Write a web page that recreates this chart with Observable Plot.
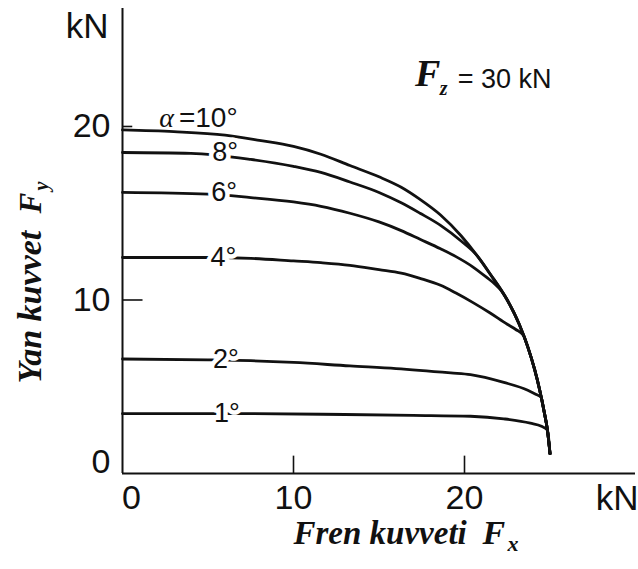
<!DOCTYPE html>
<html>
<head>
<meta charset="utf-8">
<script src="https://cdn.jsdelivr.net/npm/d3@7"></script>
<script src="https://cdn.jsdelivr.net/npm/@observablehq/plot@0.6"></script>
<style>
  html, body { margin: 0; padding: 0; background: #fff; }
  #chart svg { display: block; }
</style>
</head>
<body>
<div id="chart"></div>
<script>
// ---- Data (Fx, Fy in kN) ----
const curve10 = [[0,19.8],[3,19.7],[6,19.5],[8,19.2],[10,18.85],[11.6,18.4],[13.3,17.75],[15,17.1],[16.3,16.5],[17.4,15.8],[18.6,14.9],[19.8,13.7],[20.7,12.6],[21.5,11.5],[22.5,10.0],[23.2,8.6],[23.7,7.3],[24.1,6.0],[24.4,4.8],[24.65,3.6],[24.85,2.5],[25.0,1.15]];
const curve8  = [[0,18.5],[4,18.45],[7.5,18.1],[10,17.7],[11.6,17.35],[13.3,16.8],[15,16.2],[16.3,15.6],[17.4,15.0],[18.6,14.3],[19.8,13.4],[20.7,12.6],[21.5,11.5],[22.5,10.0],[23.2,8.6],[23.7,7.3],[24.1,6.0],[24.4,4.8],[24.65,3.6],[24.85,2.5],[25.0,1.15]];
const curve6  = [[0,16.2],[5,16.1],[7.5,15.9],[10,15.65],[11.6,15.4],[13.3,15.0],[15,14.5],[16.3,14.0],[17.4,13.5],[18.6,12.95],[19.5,12.5],[20.5,11.9],[21.3,11.3],[21.8,10.9],[22.1,10.6],[22.5,10.0],[23.2,8.6],[23.7,7.3],[24.1,6.0],[24.4,4.8],[24.65,3.6],[24.85,2.5],[25.0,1.15]];
const curve4  = [[0,12.45],[5,12.45],[7.5,12.4],[10,12.25],[11.6,12.15],[13.3,12.0],[15,11.75],[16.3,11.55],[17.4,11.25],[18.6,10.85],[19.5,10.4],[20.5,9.85],[21.5,9.25],[22.5,8.6],[23.0,8.3],[23.45,7.95],[23.7,7.3],[24.1,6.0],[24.4,4.8],[24.65,3.6],[24.85,2.5],[25.0,1.15]];
const curve2  = [[0,6.6],[5,6.55],[7.5,6.5],[10,6.4],[13.3,6.2],[16,6.05],[19.2,5.8],[20.35,5.7],[22.3,5.25],[23.7,4.8],[24.2,4.55],[24.48,4.4],[24.65,3.6],[24.85,2.5],[25.0,1.15]];
const curve1  = [[0,3.45],[7.5,3.45],[13,3.4],[17,3.35],[20.35,3.3],[22.3,3.15],[23.85,2.9],[24.5,2.72],[24.85,2.5],[25.0,1.15]];

const slipAngles = ["10°","8°","6°","4°","2°","1°"];
const curves = [curve10, curve8, curve6, curve4, curve2, curve1];

// labels set in the gaps of the lines
const gapLabels = ["8°","6°","4°","2°","1°"];
const gapLabelFx = [6.0, 5.95, 5.9, 6.05, 6.1];
const gapLabelFy = [18.5, 16.2, 12.45, 6.6, 3.45];

const xTicks = [0, 10, 20];
const yTicks = [0, 10, 20];

// ---- Table built from the arrays ----
const table = curves.flatMap((c, i) => c.map(([fx, fy]) => ({angle: slipAngles[i], fx, fy})));
const labelTable = gapLabels.map((t, i) => ({t, fx: gapLabelFx[i], fy: gapLabelFy[i]}));

const sans = "'Liberation Sans', Arial, Helvetica, sans-serif";
const serif = "'Liberation Serif', 'Times New Roman', serif";
const ink = "#111";

const chart = Plot.plot({
  width: 638,
  height: 569,
  marginLeft: 122,
  marginRight: 3,
  marginTop: 8,
  marginBottom: 96,
  x: {domain: [0, 30], axis: null},
  y: {domain: [0, 26.8], axis: null},
  style: {fontFamily: sans, background: "white", color: ink},
  marks: [
    // axis lines
    Plot.ruleX([0], {stroke: ink, strokeWidth: 2}),
    Plot.ruleY([0], {stroke: ink, strokeWidth: 2.2}),
    // inward tick marks
    Plot.ruleX(xTicks.filter(d => d > 0), {y1: 0, y2: 1, stroke: ink, strokeWidth: 1.6}),
    Plot.ruleY([10], {x1: 0, x2: 1.2, stroke: ink, strokeWidth: 1.6}),
    Plot.ruleY([20], {x1: 0, x2: 0.6, stroke: ink, strokeWidth: 1.6}),
    // tick labels
    Plot.axisX(xTicks.filter(d => d > 0), {tickSize: 0, tickPadding: 11, fontSize: 34, fontFamily: sans, label: null}),
    Plot.axisX([0], {tickSize: 0, tickPadding: 11, fontSize: 34, fontFamily: sans, label: null, dx: 9}),
    Plot.axisY(yTicks.filter(d => d > 0), {tickSize: 0, tickPadding: 12, fontSize: 34, fontFamily: sans, label: null}),
    Plot.axisY([0], {tickSize: 0, tickPadding: 12, fontSize: 34, fontFamily: sans, label: null, dy: -11}),
    // curves
    Plot.line(table, {x: "fx", y: "fy", z: "angle", curve: "monotone-x", stroke: ink, strokeWidth: 2.8}),
    // angle labels in the gaps
    Plot.text(labelTable, {x: "fx", y: "fy", text: "t", fontSize: 27, fontFamily: sans, fill: ink,
      stroke: "white", strokeWidth: 9, textAnchor: "middle", lineAnchor: "middle"}),
    Plot.text(["α"], {x: 2.15, y: 19.95, text: d => d, fontSize: 28, fontFamily: serif, fontStyle: "italic",
      fill: ink, textAnchor: "start", lineAnchor: "bottom"}),
    Plot.text(["=10°"], {x: 3.3, y: 19.95, text: d => d, fontSize: 28, fontFamily: sans,
      fill: ink, textAnchor: "start", lineAnchor: "bottom"}),
    // Fz = 30 kN annotation
    Plot.text(["F"], {x: 17.1, y: 22.35, text: d => d, fontSize: 38, fontFamily: serif, fontStyle: "italic", fontWeight: "bold",
      fill: ink, textAnchor: "start", lineAnchor: "bottom"}),
    Plot.text(["z"], {x: 18.55, y: 21.8, text: d => d, fontSize: 20, fontFamily: serif, fontStyle: "italic", fontWeight: "bold",
      fill: ink, textAnchor: "start", lineAnchor: "bottom"}),
    Plot.text(["= 30 kN"], {x: 19.6, y: 22.2, text: d => d, fontSize: 27, fontFamily: sans,
      fill: ink, textAnchor: "start", lineAnchor: "bottom"}),
    // unit labels
    Plot.text(["kN"], {frameAnchor: "top-left", text: d => d, dx: -14, dy: 29, fontSize: 35, fontFamily: sans,
      fill: ink, textAnchor: "end", lineAnchor: "bottom"}),
    Plot.text(["kN"], {frameAnchor: "bottom-right", text: d => d, dx: 3, dy: 36, fontSize: 35, fontFamily: sans,
      fill: ink, textAnchor: "end", lineAnchor: "bottom"}),
    // x axis title: Fren kuvveti Fx
    Plot.text(["Fren kuvveti"], {frameAnchor: "bottom-left", text: d => d, dx: 171, dy: 70, fontSize: 33, fontFamily: serif,
      fontStyle: "italic", fontWeight: "bold", fill: ink, textAnchor: "start", lineAnchor: "bottom"}),
    Plot.text(["F"], {frameAnchor: "bottom-left", text: d => d, dx: 360, dy: 70, fontSize: 34, fontFamily: serif,
      fontStyle: "italic", fontWeight: "bold", fill: ink, textAnchor: "start", lineAnchor: "bottom"}),
    Plot.text(["x"], {frameAnchor: "bottom-left", text: d => d, dx: 385, dy: 77, fontSize: 22, fontFamily: serif,
      fontStyle: "italic", fontWeight: "bold", fill: ink, textAnchor: "start", lineAnchor: "bottom"}),
    // y axis title: Yan kuvvet Fy (rotated)
    Plot.text(["Yan kuvvet"], {frameAnchor: "bottom-left", text: d => d, dx: -82, dy: -90, rotate: -90, fontSize: 34, fontFamily: serif,
      fontStyle: "italic", fontWeight: "bold", fill: ink, textAnchor: "start", lineAnchor: "bottom"}),
    Plot.text(["F"], {frameAnchor: "bottom-left", text: d => d, dx: -82, dy: -260, rotate: -90, fontSize: 31, fontFamily: serif,
      fontStyle: "italic", fontWeight: "bold", fill: ink, textAnchor: "start", lineAnchor: "bottom"}),
    Plot.text(["y"], {frameAnchor: "bottom-left", text: d => d, dx: -75, dy: -283, rotate: -90, fontSize: 20, fontFamily: serif,
      fontStyle: "italic", fontWeight: "bold", fill: ink, textAnchor: "start", lineAnchor: "bottom"})
  ]
});

document.getElementById("chart").appendChild(chart);
</script>
</body>
</html>
